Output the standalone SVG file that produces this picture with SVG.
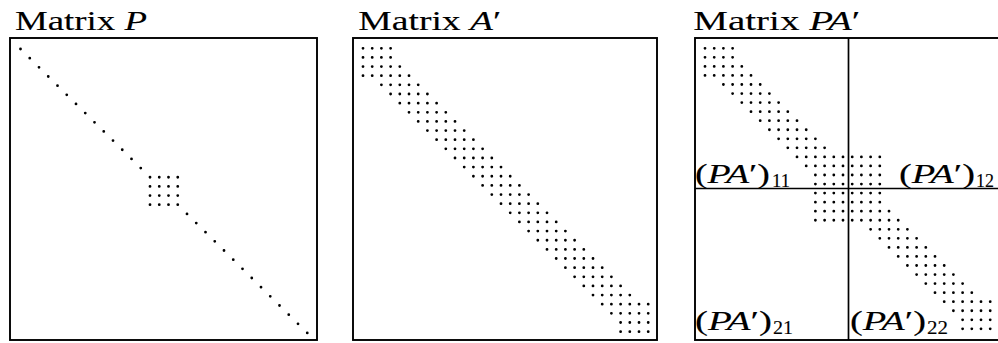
<svg xmlns="http://www.w3.org/2000/svg" width="998" height="343" viewBox="0 0 998 343">
<style>
.box{fill:none;stroke:#000;stroke-width:1.9}
.part{fill:none;stroke:#000;stroke-width:1.7}
.dots{fill:none;stroke:#000;stroke-width:2.8;stroke-linecap:round}
.dp{stroke-dasharray:0.01 9.24}
.da{stroke-dasharray:0.01 9.19}
.t{font-family:"Liberation Serif","Times New Roman",serif;font-size:27px;fill:#000;stroke:#000;stroke-width:0.12}
.i{font-style:italic}
.s{font-size:18px}
</style>
<rect width="998" height="343" fill="#fff"/>
<g id="matrix-p">
<text class="t" x="15" y="30" textLength="132" lengthAdjust="spacingAndGlyphs">Matrix <tspan class="i">P</tspan></text>
<rect class="box" x="10" y="38" width="307" height="302"/>
<path class="dots dp" d="M20.5 49h.02M29.75 58.16h.02M39 67.32h.02M48.25 76.48h.02M57.5 85.64h.02M66.75 94.8h.02M76 103.96h.02M85.25 113.12h.02M94.5 122.28h.02M103.75 131.44h.02M113 140.6h.02M122.25 149.76h.02M131.5 158.92h.02M140.75 168.08h.02M150 177.24H177.77M150 186.4H177.77M150 195.56H177.77M150 204.72H177.77M187 213.88h.02M196.25 223.04h.02M205.5 232.2h.02M214.75 241.36h.02M224 250.52h.02M233.25 259.68h.02M242.5 268.84h.02M251.75 278h.02M261 287.16h.02M270.25 296.32h.02M279.5 305.48h.02M288.75 314.64h.02M298 323.8h.02M307.25 332.96h.02"/>
</g>
<g id="matrix-a">
<text class="t" x="358.3" y="30" textLength="143" lengthAdjust="spacingAndGlyphs">Matrix <tspan class="i">A</tspan>′</text>
<rect class="box" x="353" y="38" width="304" height="302"/>
<path class="dots da" d="M363 48.3H390.62M363 57.44H390.62M363 66.58H399.82M363 75.72H409.02M381.4 84.86H418.22M390.6 94H427.42M399.8 103.14H436.62M409 112.28H445.82M418.2 121.42H455.02M427.4 130.56H464.22M436.6 139.7H473.42M445.8 148.84H482.62M455 157.98H491.82M464.2 167.12H501.02M473.4 176.26H510.22M482.6 185.4H519.42M491.8 194.54H528.62M501 203.68H537.82M510.2 212.82H547.02M519.4 221.96H556.22M528.6 231.1H565.42M537.8 240.24H574.62M547 249.38H583.82M556.2 258.52H593.02M565.4 267.66H602.22M574.6 276.8H611.42M583.8 285.94H620.62M593 295.08H629.82M602.2 304.22H648.22M611.4 313.36H648.22M620.6 322.5H648.22M620.6 331.64H648.22"/>
</g>
<g id="matrix-pa">
<text class="t" x="693.3" y="30" textLength="167" lengthAdjust="spacingAndGlyphs">Matrix <tspan class="i">PA</tspan>′</text>
<rect class="box" x="695" y="38" width="310" height="302"/>
<path class="part" d="M848.5 38V340M695 188.5H1000"/>
<path class="dots da" d="M705 48.3H732.62M705 57.35H732.62M705 66.4H741.82M705 75.45H751.02M723.4 84.5H760.22M732.6 93.55H769.42M741.8 102.6H778.62M751 111.65H787.82M760.2 120.7H797.02M769.4 129.75H806.22M778.6 138.8H815.42M787.8 147.85H824.62M797 156.9H879.82M806.2 165.95H879.82M815.4 175H879.82M815.4 184.05H879.82M815.4 193.1H879.82M815.4 202.15H879.82M815.4 211.2H889.02M815.4 220.25H898.22M870.6 229.3H907.42M879.8 238.35H916.62M889 247.4H925.82M898.2 256.45H935.02M907.4 265.5H944.22M916.6 274.55H953.42M925.8 283.6H962.62M935 292.65H971.82M944.2 301.7H990.22M953.4 310.75H990.22M962.6 319.8H990.22M962.6 328.85H990.22"/>
<text class="t" x="695" y="183" textLength="75" lengthAdjust="spacingAndGlyphs">(<tspan class="i">PA</tspan>′)</text>
<text class="t s" x="772" y="187" textLength="18" lengthAdjust="spacingAndGlyphs">11</text>
<text class="t" x="899" y="183" textLength="76" lengthAdjust="spacingAndGlyphs">(<tspan class="i">PA</tspan>′)</text>
<text class="t s" x="976" y="187" textLength="18" lengthAdjust="spacingAndGlyphs">12</text>
<text class="t" x="695" y="330" textLength="77" lengthAdjust="spacingAndGlyphs">(<tspan class="i">PA</tspan>′)</text>
<text class="t s" x="773" y="334" textLength="20" lengthAdjust="spacingAndGlyphs">21</text>
<text class="t" x="850" y="330" textLength="76" lengthAdjust="spacingAndGlyphs">(<tspan class="i">PA</tspan>′)</text>
<text class="t s" x="927" y="334" textLength="21" lengthAdjust="spacingAndGlyphs">22</text>
</g>
</svg>
